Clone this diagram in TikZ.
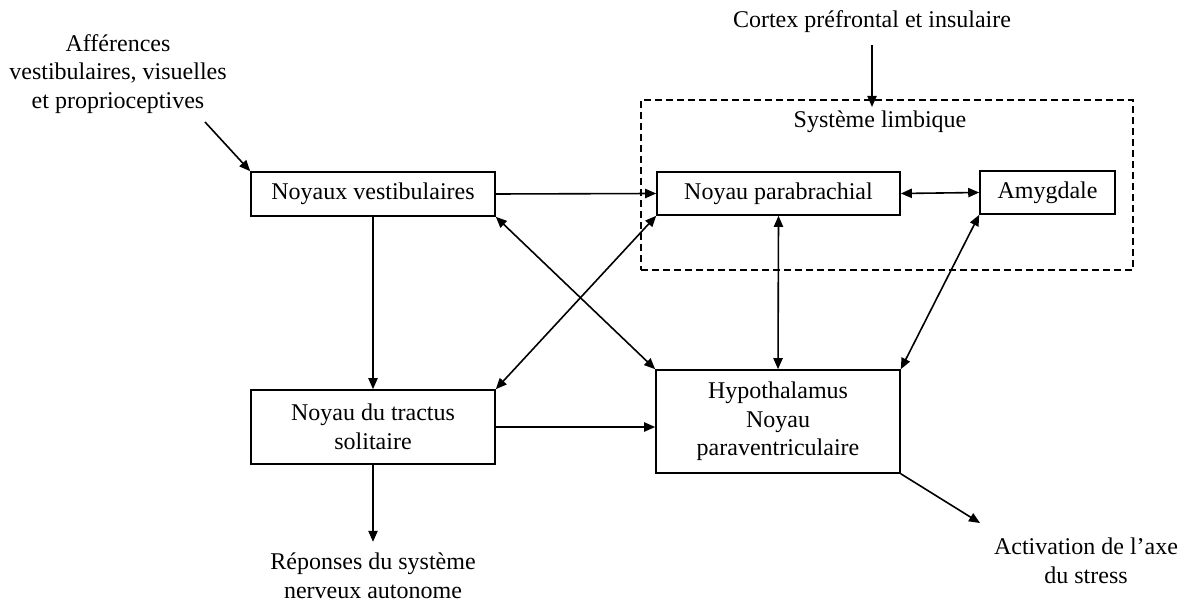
\documentclass[tikz,border=0pt]{standalone}
\usepackage{fontspec}
\setmainfont{Liberation Serif}
\usetikzlibrary{arrows.meta}
\tikzset{
  texte/.style={align=center,inner sep=0pt,font=\fontsize{12}{14.3}\selectfont},
  boite/.style={texte,draw,line width=0.8pt},
  fleche/.style={-{Triangle[length=5.5pt,width=4.6pt]},line width=0.8pt},
  dfleche/.style={{Triangle[length=5.5pt,width=4.6pt]}-{Triangle[length=5.5pt,width=4.6pt]},line width=0.8pt},
}

\begin{document}
\begin{tikzpicture}[x=0.5pt,y=-0.5pt]
  \useasboundingbox (0,0) rectangle (1186,603);
  % limbic system frame
  \node[draw,line width=0.8pt,dash pattern=on 3.5pt off 2pt,minimum width=246pt,minimum height=85pt,inner sep=0pt] (limbique) at (887,185) {};
  \node[texte] (limbtitre) at (880,122) {Système limbique};
  % boxes
  \node[boite,minimum width=122pt,minimum height=22pt] (nv) at (373,194) {Noyaux vestibulaires};
  \node[boite,minimum width=121.5pt,minimum height=21.5pt] (np) at (778.5,193.5) {Noyau parabrachial};
  \node[boite,minimum width=67.5pt,minimum height=21.5pt] (amyg) at (1047.5,192.5) {Amygdale};
  \node[boite,minimum width=122pt,minimum height=37pt] (nts) at (373,427) {Noyau du tractus\\solitaire};
  \node[boite,minimum width=122pt,minimum height=51.5pt] (hpv) at (778,421.5) {Hypothalamus\\Noyau\\paraventriculaire};
  % free texts
  \node[texte] (aff) at (118,74) {Afférences\\vestibulaires, visuelles\\et proprioceptives};
  \node[texte] (cortex) at (872,22) {Cortex préfrontal et insulaire};
  \node[texte] (rep) at (373,576) {Réponses du système\\nerveux autonome};
  \node[texte] (act) at (1086,561) {Activation de l’axe\\du stress};
  \coordinate (affpied) at (205,122);
  \coordinate (limbhaut) at (872,107);
  \coordinate (actpointe) at (980,523);
  % connectors
  \draw[fleche] (affpied) -- (nv.north west);
  \draw[fleche] ([yshift=-6pt]cortex.south) -- (limbhaut);
  \draw[fleche] (nv.east) -- (np.west);
  \draw[dfleche] (np.east) -- (amyg.west);
  \draw[fleche] (nv.south) -- (nts.north);
  \draw[dfleche] (nv.south east) -- (hpv.north west);
  \draw[dfleche] (nts.north east) -- (np.south west);
  \draw[dfleche] (np.south) -- (hpv.north);
  \draw[dfleche] (amyg.south west) -- (hpv.north east);
  \draw[fleche] (nts.east) -- (nts.east -| hpv.west);
  \draw[fleche] (nts.south) -- ([yshift=5.5pt]rep.north);
  \draw[fleche] (hpv.south east) -- (actpointe);
\end{tikzpicture}
\end{document}
